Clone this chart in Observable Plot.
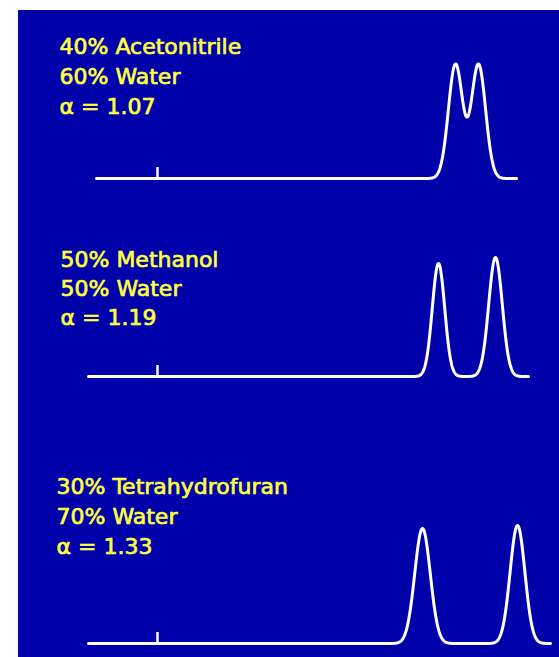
<!DOCTYPE html>
<html>
<head>
<meta charset="utf-8">
<script src="https://cdn.jsdelivr.net/npm/d3@7"></script>
<script src="https://cdn.jsdelivr.net/npm/@observablehq/plot@0.6"></script>
<style>
  body { margin: 0; background: #ffffff; }
  #chart { position: relative; width: 559px; height: 657px; }
  #panel { position: absolute; left: 18px; top: 10px; width: 541px; height: 647px; background: #0000aa; overflow: hidden; }
  #panel svg { position: absolute; left: 0; }
</style>
</head>
<body>
<div id="chart"><div id="panel"></div></div>
<script>
// Mobile-phase composition of each run
const solventA = ["40% Acetonitrile", "50% Methanol", "30% Tetrahydrofuran"];
const solventB = ["60% Water", "50% Water", "70% Water"];
// Selectivity factor for the critical pair
const alphas = [1.07, 1.19, 1.33];

// Peak parameters (time in min, height in mAU, sigma in min)
const retention1 = [14.9, 14.05, 13.25];
const retention2 = [16.05, 16.9, 18.0];
const height1 = [114, 113, 115];
const height2 = [114, 119, 118];
const sigma1 = [0.355, 0.31, 0.39];
const sigma2 = [0.355, 0.34, 0.37];

// Recorded window of each run and injection mark
const runStart = [-3.05, -3.45, -3.45];
const runEnd = [17.95, 18.55, 19.65];
const injection = 0;

// Placement of each run inside the panel
const layout = [
  {top: 0,   height: 200, baseline: 168, textX: 41, textY: 43, gap: 30},
  {top: 200, height: 200, baseline: 166, textX: 42, textY: 56, gap: 29},
  {top: 400, height: 247, baseline: 233, textX: 38, textY: 83, gap: 30}
];

const panelWidth = 541;
const xDomain = [-6.95, 20.1];
const step = 0.02;

function trace(i) {
  const peaks = [
    {t: retention1[i], h: height1[i], s: sigma1[i]},
    {t: retention2[i], h: height2[i], s: sigma2[i]}
  ];
  return d3.range(runStart[i], runEnd[i] + step / 2, step).map(t => ({
    time: t,
    signal: d3.sum(peaks, p => p.h * Math.exp(-((t - p.t) ** 2) / (2 * p.s * p.s)))
  }));
}

const panel = document.getElementById("panel");

solventA.forEach((name, i) => {
  const L = layout[i];
  const lines = [name, solventB[i], `α = ${alphas[i].toFixed(2)}`];
  const plot = Plot.plot({
    width: panelWidth,
    height: L.height,
    margin: 0,
    style: {background: "none", overflow: "visible"},
    x: {domain: xDomain, range: [0, panelWidth], axis: null},
    y: {domain: [0, 120], range: [L.baseline, L.baseline - 120], axis: null},
    marks: [
      Plot.ruleX([injection], {y1: 0, y2: 11, stroke: "white", strokeWidth: 2.5}),
      Plot.line(trace(i), {x: "time", y: "signal", stroke: "white", strokeWidth: 3, strokeLinejoin: "round"}),
      ...lines.map((line, j) => Plot.text([line], {
        text: d => d,
        frameAnchor: "top-left",
        textAnchor: "start",
        lineAnchor: "bottom",
        dx: L.textX,
        dy: L.textY + j * L.gap,
        fill: "#ffff3c",
        stroke: "#ffff3c",
        strokeWidth: 0.7,
        fontSize: 22,
        fontFamily: "DejaVu Sans"
      }))
    ]
  });
  plot.style.top = L.top + "px";
  panel.appendChild(plot);
});
</script>
</body>
</html>
